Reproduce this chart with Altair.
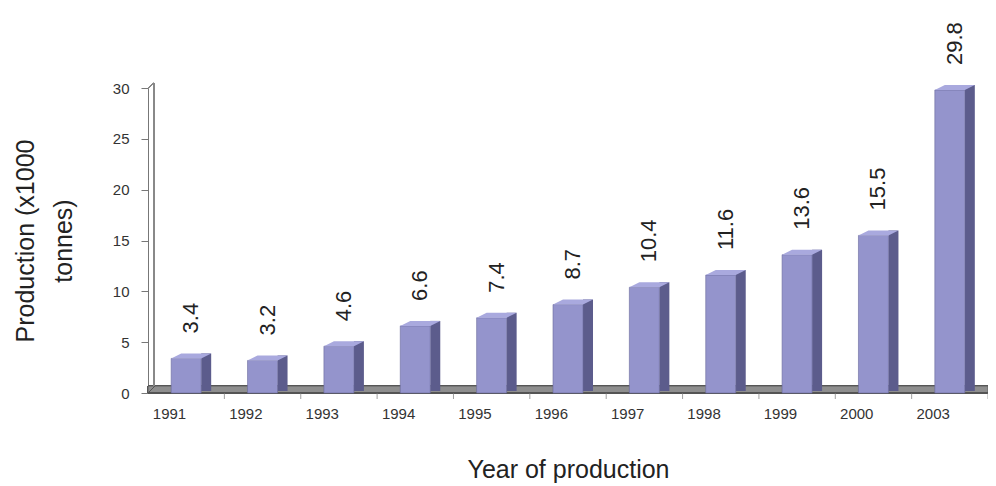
import altair as alt
import pandas as pd

years = ["1991", "1992", "1993", "1994", "1995", "1996", "1997", "1998", "1999", "2000", "2003"]
production = [3.4, 3.2, 4.6, 6.6, 7.4, 8.7, 10.4, 11.6, 13.6, 15.5, 29.8]
labels = ["3.4", "3.2", "4.6", "6.6", "7.4", "8.7", "10.4", "11.6", "13.6", "15.5", "29.8"]

df = pd.DataFrame({"year": years, "value": production, "label": labels})

W, H = 840, 305
FONT = "Liberation Sans"

x = alt.X("year:N", sort=years, title="Year of production",
          scale=alt.Scale(paddingInner=0, paddingOuter=0),
          axis=alt.Axis(labelAngle=0, labelFontSize=15, labelColor="#333", labelFont=FONT,
                        titleFont=FONT, titleFontSize=25, titleFontWeight="normal", titleColor="#222",
                        titleY=84, titleBaseline="alphabetic",
                        domain=False, ticks=False, labelPadding=20))
y = alt.Y("value:Q", title=["Production (x1000", "tonnes)"],
          scale=alt.Scale(domain=[0, 30]),
          axis=alt.Axis(values=[0, 5, 10, 15, 20, 25, 30], grid=False, labelFontSize=15,
                        labelColor="#333", labelFont=FONT, titleFont=FONT, titleFontSize=25,
                        titleFontWeight="normal", titleColor="#222", titleLineHeight=38,
                        titleX=-115, titleBaseline="alphabetic",
                        domainColor="#777", tickColor="#777", tickSize=7, labelPadding=12))

base = alt.Chart(df)

# floor (3D base)
floor = base.mark_rect(color="#8e8e8e", stroke="#555", strokeWidth=0.8).encode(
    x=alt.value(0), x2=alt.value(W), y=alt.value(H - 7), y2=alt.value(H))
floor_edge = base.mark_rule(color="#555", strokeWidth=1).encode(
    x=alt.value(0), x2=alt.value(W), y=alt.value(H), y2=alt.value(H))
# back wall line
wall = base.mark_rule(color="#888", strokeWidth=1).encode(
    x=alt.value(6), x2=alt.value(6), y=alt.value(-5), y2=alt.value(H - 7))
wall_top = base.mark_rule(color="#888", strokeWidth=1).encode(
    x=alt.value(0), x2=alt.value(6), y=alt.value(0), y2=alt.value(-5))
wall_bot = base.mark_rule(color="#555", strokeWidth=1).encode(
    x=alt.value(0), x2=alt.value(7), y=alt.value(H), y2=alt.value(H - 7))

# separator ticks between categories
sep = base.mark_tick(color="#777", size=6, thickness=1, xOffset=38.2, orient="vertical").encode(
    x=alt.X("year:N", sort=years), y=alt.value(H + 3))

side = base.mark_bar(color="#5c5c8c", width=10, xOffset=20, yOffset=-5, y2Offset=-2).encode(
    x=alt.X("year:N", sort=years), y="value:Q", y2=alt.datum(0))
front = base.mark_bar(color="#9494cc", width=30, stroke="#6a6a9c", strokeWidth=0.6).encode(
    x=x, y=y, y2=alt.datum(0))
top = base.mark_point(filled=True, color="#a9a9de", opacity=1, size=1600, strokeWidth=0,
                      shape="M -0.75 0 L 0.75 0 L 1.25 -0.25 L -0.25 -0.25 Z").encode(
    x=alt.X("year:N", sort=years), y="value:Q")
text = base.mark_text(angle=270, align="left", baseline="middle", fontSize=22, font=FONT,
                      color="#222", xOffset=5, yOffset=-25).encode(
    x=alt.X("year:N", sort=years), y="value:Q", text="label:N")

chart = alt.layer(floor, wall, wall_top, floor_edge, wall_bot, sep, side, front, top, text).properties(
    width=W, height=H,
    autosize=alt.AutoSizeParams(type="none"),
    padding={"left": 140, "top": 80, "right": 0, "bottom": 90},
    background="white"
).configure_view(stroke=None)

chart.save("out.html", embed_options={"renderer": "svg", "actions": False})
